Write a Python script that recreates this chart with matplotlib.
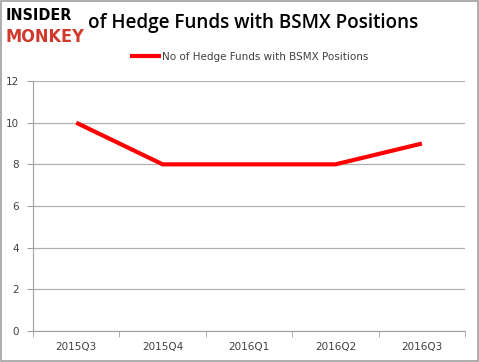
import matplotlib
matplotlib.use("Agg")
import matplotlib.pyplot as plt
from matplotlib.patches import Rectangle

quarters = ["2015Q3", "2015Q4", "2016Q1", "2016Q2", "2016Q3"]
funds = [10, 8, 8, 8, 9]
yticks = [0, 2, 4, 6, 8, 10, 12]
series_name = "No of Hedge Funds with BSMX Positions"
title = "of Hedge Funds with BSMX Positions"

fig = plt.figure(figsize=(4.79, 3.62), dpi=100)
fig.patches.append(Rectangle((0.002, 0.003), 0.996, 0.994, transform=fig.transFigure,
                             fill=False, edgecolor="#a0a0a0", linewidth=1.2))

ax = fig.add_axes([0.069, 0.086, 0.902, 0.690])
x = list(range(len(quarters)))
ax.plot(x, funds, color="#ff0000", linewidth=3, label=series_name, solid_capstyle="butt")
ax.set_xlim(-0.5, len(quarters) - 0.5)
ax.set_ylim(0, 12)
ax.set_yticks(yticks)
ax.set_yticklabels([str(v) for v in yticks])
ax.set_xticks(x)
ax.set_xticklabels(quarters)
ax.set_xticks([i - 0.5 for i in range(len(quarters) + 1)], minor=True)
ax.tick_params(axis="x", which="major", length=0, pad=8, labelsize=7.5, labelcolor="#404040")
ax.tick_params(axis="x", which="minor", length=4, color="#a0a0a0")
ax.tick_params(axis="y", length=4, color="#a0a0a0", labelsize=7.5, labelcolor="#404040", pad=6)
ax.grid(axis="y", color="#b0b0b0", linewidth=0.9)
ax.set_axisbelow(True)
for s in ["top", "right"]:
    ax.spines[s].set_visible(False)
for s in ["left", "bottom"]:
    ax.spines[s].set_color("#a0a0a0")

ax.legend(loc="lower center", bbox_to_anchor=(0.5, 1.04), frameon=False, fontsize=7.5,
          handlelength=3, handletextpad=0.1, labelcolor="#404040")

fig.text(0.011, 0.956, "INSIDER", fontsize=11.5, fontweight="heavy", color="black",
         family="DejaVu Sans", va="center", stretch="condensed")
fig.text(0.011, 0.899, "MONKEY", fontsize=13, fontweight="heavy", color="#d0392b",
         family="DejaVu Sans", va="center", stretch="condensed")
fig.text(0.183, 0.937, title, fontsize=13.6, color="black", va="center",
         family="Open Sans", fontweight="semibold")

fig.savefig("out.png", dpi=100)
